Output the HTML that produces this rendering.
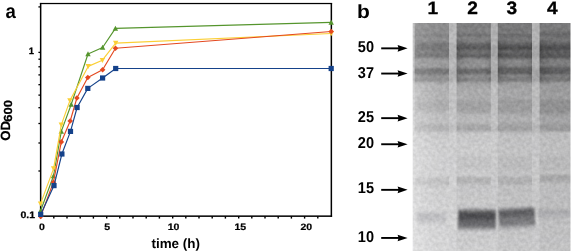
<!DOCTYPE html>
<html><head><meta charset="utf-8"><title>figure</title>
<style>
html,body{margin:0;padding:0;background:#fff;}
body{width:572px;height:252px;overflow:hidden;}
svg{display:block;}
svg text{font-family:"Liberation Sans", sans-serif;font-weight:bold;fill:#000;text-rendering:geometricPrecision;}
</style></head><body>
<svg width="572" height="252" viewBox="0 0 572 252">
<defs>
<linearGradient id="cGL" gradientUnits="userSpaceOnUse" x1="0" y1="22.9" x2="0" y2="251.0"><stop offset="0.0000" stop-color="rgb(188,188,189)"/><stop offset="0.2591" stop-color="rgb(190,190,191)"/><stop offset="0.4783" stop-color="rgb(205,205,206)"/><stop offset="1.0000" stop-color="rgb(214,214,215)"/></linearGradient>
<linearGradient id="cL1" gradientUnits="userSpaceOnUse" x1="0" y1="22.9" x2="0" y2="251.0"><stop offset="0.0000" stop-color="rgb(140,140,141)"/><stop offset="0.0465" stop-color="rgb(140,140,141)"/><stop offset="0.0530" stop-color="rgb(128,128,129)"/><stop offset="0.0596" stop-color="rgb(128,128,129)"/><stop offset="0.0662" stop-color="rgb(143,143,144)"/><stop offset="0.0794" stop-color="rgb(143,143,144)"/><stop offset="0.0881" stop-color="rgb(122,122,123)"/><stop offset="0.0969" stop-color="rgb(117,117,118)"/><stop offset="0.1188" stop-color="rgb(116,116,117)"/><stop offset="0.1232" stop-color="rgb(128,128,129)"/><stop offset="0.1298" stop-color="rgb(128,128,129)"/><stop offset="0.1363" stop-color="rgb(117,117,118)"/><stop offset="0.1495" stop-color="rgb(117,117,118)"/><stop offset="0.1583" stop-color="rgb(153,153,154)"/><stop offset="0.1955" stop-color="rgb(155,155,156)"/><stop offset="0.2021" stop-color="rgb(118,118,119)"/><stop offset="0.2253" stop-color="rgb(118,118,119)"/><stop offset="0.2306" stop-color="rgb(152,152,153)"/><stop offset="0.2372" stop-color="rgb(152,152,153)"/><stop offset="0.2416" stop-color="rgb(142,142,143)"/><stop offset="0.2547" stop-color="rgb(142,142,143)"/><stop offset="0.2613" stop-color="rgb(165,165,166)"/><stop offset="0.2679" stop-color="rgb(175,175,176)"/><stop offset="0.3292" stop-color="rgb(178,178,179)"/><stop offset="0.3512" stop-color="rgb(171,171,172)"/><stop offset="0.3819" stop-color="rgb(173,173,174)"/><stop offset="0.3994" stop-color="rgb(188,188,189)"/><stop offset="0.4301" stop-color="rgb(192,192,193)"/><stop offset="0.4410" stop-color="rgb(184,184,185)"/><stop offset="0.4564" stop-color="rgb(177,177,178)"/><stop offset="0.4739" stop-color="rgb(177,177,178)"/><stop offset="0.4805" stop-color="rgb(200,200,201)"/><stop offset="0.5572" stop-color="rgb(206,206,207)"/><stop offset="0.6712" stop-color="rgb(207,207,208)"/><stop offset="0.6843" stop-color="rgb(191,191,192)"/><stop offset="0.7063" stop-color="rgb(191,191,192)"/><stop offset="0.7150" stop-color="rgb(204,204,205)"/><stop offset="0.7983" stop-color="rgb(208,208,209)"/><stop offset="1.0000" stop-color="rgb(213,213,214)"/></linearGradient>
<linearGradient id="cG12" gradientUnits="userSpaceOnUse" x1="0" y1="22.9" x2="0" y2="251.0"><stop offset="0.0000" stop-color="rgb(184,184,185)"/><stop offset="0.0881" stop-color="rgb(184,184,185)"/><stop offset="0.1013" stop-color="rgb(176,176,177)"/><stop offset="0.1539" stop-color="rgb(176,176,177)"/><stop offset="0.1626" stop-color="rgb(184,184,185)"/><stop offset="0.1933" stop-color="rgb(184,184,185)"/><stop offset="0.2021" stop-color="rgb(176,176,177)"/><stop offset="0.2547" stop-color="rgb(178,178,179)"/><stop offset="0.2635" stop-color="rgb(192,192,193)"/><stop offset="0.4476" stop-color="rgb(198,198,199)"/><stop offset="0.4564" stop-color="rgb(192,192,193)"/><stop offset="0.4739" stop-color="rgb(192,192,193)"/><stop offset="0.4827" stop-color="rgb(205,205,206)"/><stop offset="1.0000" stop-color="rgb(211,211,212)"/></linearGradient>
<linearGradient id="cL2" gradientUnits="userSpaceOnUse" x1="0" y1="22.9" x2="0" y2="251.0"><stop offset="0.0000" stop-color="rgb(127,127,128)"/><stop offset="0.0443" stop-color="rgb(127,127,128)"/><stop offset="0.0509" stop-color="rgb(110,110,111)"/><stop offset="0.0574" stop-color="rgb(110,110,111)"/><stop offset="0.0640" stop-color="rgb(128,128,129)"/><stop offset="0.0837" stop-color="rgb(128,128,129)"/><stop offset="0.0903" stop-color="rgb(104,104,105)"/><stop offset="0.0991" stop-color="rgb(100,100,101)"/><stop offset="0.1035" stop-color="rgb(90,90,91)"/><stop offset="0.1166" stop-color="rgb(90,90,91)"/><stop offset="0.1210" stop-color="rgb(116,116,117)"/><stop offset="0.1320" stop-color="rgb(116,116,117)"/><stop offset="0.1363" stop-color="rgb(100,100,101)"/><stop offset="0.1517" stop-color="rgb(97,97,98)"/><stop offset="0.1583" stop-color="rgb(143,143,144)"/><stop offset="0.1955" stop-color="rgb(145,145,146)"/><stop offset="0.2021" stop-color="rgb(108,108,109)"/><stop offset="0.2240" stop-color="rgb(108,108,109)"/><stop offset="0.2293" stop-color="rgb(148,148,149)"/><stop offset="0.2372" stop-color="rgb(148,148,149)"/><stop offset="0.2416" stop-color="rgb(130,130,131)"/><stop offset="0.2547" stop-color="rgb(130,130,131)"/><stop offset="0.2613" stop-color="rgb(160,160,161)"/><stop offset="0.2854" stop-color="rgb(166,166,167)"/><stop offset="0.2942" stop-color="rgb(171,171,172)"/><stop offset="0.3336" stop-color="rgb(171,171,172)"/><stop offset="0.3468" stop-color="rgb(161,161,162)"/><stop offset="0.3862" stop-color="rgb(162,162,163)"/><stop offset="0.3994" stop-color="rgb(176,176,177)"/><stop offset="0.4169" stop-color="rgb(184,184,185)"/><stop offset="0.4301" stop-color="rgb(187,187,188)"/><stop offset="0.4410" stop-color="rgb(174,174,175)"/><stop offset="0.4564" stop-color="rgb(166,166,167)"/><stop offset="0.4739" stop-color="rgb(166,166,167)"/><stop offset="0.4805" stop-color="rgb(198,198,199)"/><stop offset="0.5572" stop-color="rgb(203,203,204)"/><stop offset="0.5747" stop-color="rgb(202,202,203)"/><stop offset="0.5923" stop-color="rgb(195,195,196)"/><stop offset="0.6317" stop-color="rgb(195,195,196)"/><stop offset="0.6537" stop-color="rgb(203,203,204)"/><stop offset="0.6712" stop-color="rgb(203,203,204)"/><stop offset="0.6778" stop-color="rgb(178,178,179)"/><stop offset="0.7019" stop-color="rgb(178,178,179)"/><stop offset="0.7107" stop-color="rgb(197,197,198)"/><stop offset="0.7983" stop-color="rgb(199,199,200)"/><stop offset="0.9167" stop-color="rgb(200,200,201)"/><stop offset="1.0000" stop-color="rgb(205,205,206)"/></linearGradient>
<linearGradient id="cG23" gradientUnits="userSpaceOnUse" x1="0" y1="22.9" x2="0" y2="251.0"><stop offset="0.0000" stop-color="rgb(176,176,177)"/><stop offset="0.0881" stop-color="rgb(176,176,177)"/><stop offset="0.1013" stop-color="rgb(166,166,167)"/><stop offset="0.1539" stop-color="rgb(166,166,167)"/><stop offset="0.1626" stop-color="rgb(176,176,177)"/><stop offset="0.1933" stop-color="rgb(176,176,177)"/><stop offset="0.2021" stop-color="rgb(166,166,167)"/><stop offset="0.2547" stop-color="rgb(170,170,171)"/><stop offset="0.2635" stop-color="rgb(188,188,189)"/><stop offset="0.4476" stop-color="rgb(194,194,195)"/><stop offset="0.4564" stop-color="rgb(188,188,189)"/><stop offset="0.4739" stop-color="rgb(188,188,189)"/><stop offset="0.4827" stop-color="rgb(202,202,203)"/><stop offset="0.7983" stop-color="rgb(200,200,201)"/><stop offset="1.0000" stop-color="rgb(206,206,207)"/></linearGradient>
<linearGradient id="cL3" gradientUnits="userSpaceOnUse" x1="0" y1="22.9" x2="0" y2="251.0"><stop offset="0.0000" stop-color="rgb(120,120,121)"/><stop offset="0.0443" stop-color="rgb(120,120,121)"/><stop offset="0.0509" stop-color="rgb(105,105,106)"/><stop offset="0.0574" stop-color="rgb(105,105,106)"/><stop offset="0.0640" stop-color="rgb(118,118,119)"/><stop offset="0.0837" stop-color="rgb(116,116,117)"/><stop offset="0.0903" stop-color="rgb(100,100,101)"/><stop offset="0.0991" stop-color="rgb(95,95,96)"/><stop offset="0.1035" stop-color="rgb(77,77,78)"/><stop offset="0.1166" stop-color="rgb(77,77,78)"/><stop offset="0.1210" stop-color="rgb(102,102,103)"/><stop offset="0.1320" stop-color="rgb(102,102,103)"/><stop offset="0.1363" stop-color="rgb(88,88,89)"/><stop offset="0.1552" stop-color="rgb(92,92,93)"/><stop offset="0.1605" stop-color="rgb(133,133,134)"/><stop offset="0.1911" stop-color="rgb(133,133,134)"/><stop offset="0.1955" stop-color="rgb(99,99,100)"/><stop offset="0.2253" stop-color="rgb(99,99,100)"/><stop offset="0.2284" stop-color="rgb(142,142,143)"/><stop offset="0.2328" stop-color="rgb(142,142,143)"/><stop offset="0.2372" stop-color="rgb(124,124,125)"/><stop offset="0.2560" stop-color="rgb(124,124,125)"/><stop offset="0.2613" stop-color="rgb(155,155,156)"/><stop offset="0.2854" stop-color="rgb(163,163,164)"/><stop offset="0.3292" stop-color="rgb(166,166,167)"/><stop offset="0.3424" stop-color="rgb(155,155,156)"/><stop offset="0.3906" stop-color="rgb(156,156,157)"/><stop offset="0.4038" stop-color="rgb(172,172,173)"/><stop offset="0.4301" stop-color="rgb(176,176,177)"/><stop offset="0.4410" stop-color="rgb(168,168,169)"/><stop offset="0.4542" stop-color="rgb(160,160,161)"/><stop offset="0.4739" stop-color="rgb(160,160,161)"/><stop offset="0.4805" stop-color="rgb(190,190,191)"/><stop offset="0.5572" stop-color="rgb(194,194,195)"/><stop offset="0.5747" stop-color="rgb(194,194,195)"/><stop offset="0.5923" stop-color="rgb(187,187,188)"/><stop offset="0.6317" stop-color="rgb(187,187,188)"/><stop offset="0.6537" stop-color="rgb(193,193,194)"/><stop offset="0.6712" stop-color="rgb(193,193,194)"/><stop offset="0.6800" stop-color="rgb(175,175,176)"/><stop offset="0.7041" stop-color="rgb(175,175,176)"/><stop offset="0.7128" stop-color="rgb(191,191,192)"/><stop offset="0.7983" stop-color="rgb(192,192,193)"/><stop offset="1.0000" stop-color="rgb(199,199,200)"/></linearGradient>
<linearGradient id="cG34" gradientUnits="userSpaceOnUse" x1="0" y1="22.9" x2="0" y2="251.0"><stop offset="0.0000" stop-color="rgb(180,180,181)"/><stop offset="0.0881" stop-color="rgb(178,178,179)"/><stop offset="0.1013" stop-color="rgb(168,168,169)"/><stop offset="0.1539" stop-color="rgb(168,168,169)"/><stop offset="0.1626" stop-color="rgb(178,178,179)"/><stop offset="0.1933" stop-color="rgb(176,176,177)"/><stop offset="0.2021" stop-color="rgb(164,164,165)"/><stop offset="0.2547" stop-color="rgb(166,166,167)"/><stop offset="0.2635" stop-color="rgb(186,186,187)"/><stop offset="0.4476" stop-color="rgb(188,188,189)"/><stop offset="0.4564" stop-color="rgb(180,180,181)"/><stop offset="0.4739" stop-color="rgb(180,180,181)"/><stop offset="0.4827" stop-color="rgb(197,197,198)"/><stop offset="1.0000" stop-color="rgb(201,201,202)"/></linearGradient>
<linearGradient id="cL4" gradientUnits="userSpaceOnUse" x1="0" y1="22.9" x2="0" y2="251.0"><stop offset="0.0000" stop-color="rgb(123,123,124)"/><stop offset="0.0311" stop-color="rgb(120,120,121)"/><stop offset="0.0509" stop-color="rgb(104,104,105)"/><stop offset="0.0574" stop-color="rgb(104,104,105)"/><stop offset="0.0640" stop-color="rgb(116,116,117)"/><stop offset="0.0837" stop-color="rgb(112,112,113)"/><stop offset="0.0903" stop-color="rgb(97,97,98)"/><stop offset="0.0991" stop-color="rgb(92,92,93)"/><stop offset="0.1035" stop-color="rgb(80,80,81)"/><stop offset="0.1188" stop-color="rgb(80,80,81)"/><stop offset="0.1232" stop-color="rgb(97,97,98)"/><stop offset="0.1320" stop-color="rgb(97,97,98)"/><stop offset="0.1363" stop-color="rgb(87,87,88)"/><stop offset="0.1552" stop-color="rgb(90,90,91)"/><stop offset="0.1605" stop-color="rgb(126,126,127)"/><stop offset="0.1911" stop-color="rgb(126,126,127)"/><stop offset="0.1955" stop-color="rgb(93,93,94)"/><stop offset="0.2253" stop-color="rgb(93,93,94)"/><stop offset="0.2284" stop-color="rgb(138,138,139)"/><stop offset="0.2328" stop-color="rgb(138,138,139)"/><stop offset="0.2372" stop-color="rgb(116,116,117)"/><stop offset="0.2560" stop-color="rgb(116,116,117)"/><stop offset="0.2613" stop-color="rgb(152,152,153)"/><stop offset="0.3292" stop-color="rgb(157,157,158)"/><stop offset="0.3424" stop-color="rgb(144,144,145)"/><stop offset="0.3906" stop-color="rgb(145,145,146)"/><stop offset="0.4082" stop-color="rgb(162,162,163)"/><stop offset="0.4301" stop-color="rgb(167,167,168)"/><stop offset="0.4410" stop-color="rgb(160,160,161)"/><stop offset="0.4542" stop-color="rgb(154,154,155)"/><stop offset="0.4739" stop-color="rgb(154,154,155)"/><stop offset="0.4805" stop-color="rgb(187,187,188)"/><stop offset="0.5572" stop-color="rgb(190,190,191)"/><stop offset="0.5747" stop-color="rgb(190,190,191)"/><stop offset="0.5923" stop-color="rgb(184,184,185)"/><stop offset="0.6274" stop-color="rgb(184,184,185)"/><stop offset="0.6449" stop-color="rgb(189,189,190)"/><stop offset="0.6624" stop-color="rgb(189,189,190)"/><stop offset="0.6690" stop-color="rgb(167,167,168)"/><stop offset="0.6931" stop-color="rgb(167,167,168)"/><stop offset="0.7019" stop-color="rgb(187,187,188)"/><stop offset="0.7983" stop-color="rgb(188,188,189)"/><stop offset="1.0000" stop-color="rgb(194,194,195)"/></linearGradient>
<linearGradient id="b2" gradientUnits="userSpaceOnUse" x1="0" y1="207.0" x2="0" y2="232.5"><stop offset="0.0000" stop-color="rgb(130,130,133)" stop-opacity="0"/><stop offset="0.0784" stop-color="rgb(130,130,133)" stop-opacity="0.45"/><stop offset="0.1569" stop-color="rgb(100,100,103)" stop-opacity="0.9"/><stop offset="0.2353" stop-color="rgb(84,84,87)" stop-opacity="1"/><stop offset="0.3137" stop-color="rgb(77,77,80)" stop-opacity="1"/><stop offset="0.4510" stop-color="rgb(80,80,83)" stop-opacity="1"/><stop offset="0.5490" stop-color="rgb(100,100,103)" stop-opacity="1"/><stop offset="0.7451" stop-color="rgb(110,110,113)" stop-opacity="1"/><stop offset="0.8235" stop-color="rgb(128,128,131)" stop-opacity="0.85"/><stop offset="0.9020" stop-color="rgb(155,155,158)" stop-opacity="0.5"/><stop offset="1.0000" stop-color="rgb(185,185,188)" stop-opacity="0"/></linearGradient>
<linearGradient id="b3" gradientUnits="userSpaceOnUse" x1="0" y1="205.8" x2="0" y2="231.3"><stop offset="0.0000" stop-color="rgb(135,135,138)" stop-opacity="0"/><stop offset="0.0784" stop-color="rgb(135,135,138)" stop-opacity="0.45"/><stop offset="0.1569" stop-color="rgb(105,105,108)" stop-opacity="0.9"/><stop offset="0.2353" stop-color="rgb(95,95,98)" stop-opacity="1"/><stop offset="0.3725" stop-color="rgb(97,97,100)" stop-opacity="1"/><stop offset="0.4706" stop-color="rgb(116,116,119)" stop-opacity="1"/><stop offset="0.7255" stop-color="rgb(124,124,127)" stop-opacity="0.95"/><stop offset="0.8039" stop-color="rgb(140,140,143)" stop-opacity="0.75"/><stop offset="0.9020" stop-color="rgb(165,165,168)" stop-opacity="0.4"/><stop offset="1.0000" stop-color="rgb(185,185,188)" stop-opacity="0"/></linearGradient>
<linearGradient id="b1" gradientUnits="userSpaceOnUse" x1="0" y1="210" x2="0" y2="226"><stop offset="0.0000" stop-color="rgb(186,186,189)" stop-opacity="0"/><stop offset="0.2500" stop-color="rgb(186,186,189)" stop-opacity="0.8"/><stop offset="0.6250" stop-color="rgb(188,188,191)" stop-opacity="0.8"/><stop offset="1.0000" stop-color="rgb(195,195,198)" stop-opacity="0"/></linearGradient>
<linearGradient id="b4" gradientUnits="userSpaceOnUse" x1="0" y1="207.5" x2="0" y2="220.5"><stop offset="0.0000" stop-color="rgb(170,170,173)" stop-opacity="0"/><stop offset="0.2308" stop-color="rgb(170,170,173)" stop-opacity="0.9"/><stop offset="0.6923" stop-color="rgb(173,173,176)" stop-opacity="0.85"/><stop offset="1.0000" stop-color="rgb(185,185,188)" stop-opacity="0"/></linearGradient>
<linearGradient id="edgeL" x1="0" y1="0" x2="1" y2="0"><stop offset="0" stop-color="#000" stop-opacity="0.17"/><stop offset="0.14" stop-color="#000" stop-opacity="0.07"/><stop offset="0.4" stop-color="#000" stop-opacity="0"/><stop offset="0.8" stop-color="#000" stop-opacity="0"/><stop offset="1" stop-color="#000" stop-opacity="0.12"/></linearGradient>
<linearGradient id="liteL" x1="0" y1="0" x2="1" y2="0"><stop offset="0" stop-color="#fff" stop-opacity="1"/><stop offset="0.35" stop-color="#fff" stop-opacity="0.55"/><stop offset="1" stop-color="#fff" stop-opacity="0"/></linearGradient>
<linearGradient id="fadeR" x1="0" y1="0" x2="1" y2="0"><stop offset="0" stop-color="#fff" stop-opacity="0"/><stop offset="0.3" stop-color="#fff" stop-opacity="0"/><stop offset="1" stop-color="#c3c3c5" stop-opacity="0.9"/></linearGradient>
<filter id="gblur" x="-5%" y="-5%" width="110%" height="110%"><feGaussianBlur stdDeviation="0.6 0.9"/></filter>
<filter id="bblur" x="-10%" y="-20%" width="120%" height="140%"><feGaussianBlur stdDeviation="1.1 1.2"/></filter>
<clipPath id="gclip"><rect x="412.7" y="22.9" width="157.8" height="228.1"/></clipPath>
<filter id="noise" x="0" y="0" width="100%" height="100%" color-interpolation-filters="sRGB"><feTurbulence type="fractalNoise" baseFrequency="0.28" numOctaves="2" seed="7" result="t"/><feColorMatrix in="t" type="matrix" values="1 0 0 0 0  1 0 0 0 0  1 0 0 0 0  0 0 0 0 1" result="n"/><feComposite in="SourceGraphic" in2="n" operator="arithmetic" k1="0" k2="1" k3="0.14" k4="-0.07"/></filter>
</defs>
<rect x="0" y="0" width="572" height="252" fill="#fff"/>
<g id="chart">
<rect x="39.9" y="2.95" width="1.5" height="213.9" fill="#000"/>
<rect x="39.9" y="2.9" width="292.20000000000005" height="1.25" fill="#000"/>
<rect x="330.6" y="3.0" width="1.5" height="213.79999999999998" fill="#000"/>
<rect x="39.9" y="215.4" width="292.20000000000005" height="1.5" fill="#000"/>
<line x1="38.4" y1="6.9" x2="40.2" y2="6.9" stroke="#000" stroke-width="1.3"/>
<line x1="38.4" y1="52.4" x2="40.2" y2="52.4" stroke="#000" stroke-width="1.3"/>
<line x1="38.4" y1="59.2" x2="40.2" y2="59.2" stroke="#000" stroke-width="1.3"/>
<line x1="38.4" y1="66.8" x2="40.2" y2="66.8" stroke="#000" stroke-width="1.3"/>
<line x1="38.4" y1="74.9" x2="40.2" y2="74.9" stroke="#000" stroke-width="1.3"/>
<line x1="38.4" y1="84.7" x2="40.2" y2="84.7" stroke="#000" stroke-width="1.3"/>
<line x1="38.4" y1="95.1" x2="40.2" y2="95.1" stroke="#000" stroke-width="1.3"/>
<line x1="38.4" y1="107.7" x2="40.2" y2="107.7" stroke="#000" stroke-width="1.3"/>
<line x1="38.4" y1="123.5" x2="40.2" y2="123.5" stroke="#000" stroke-width="1.3"/>
<line x1="38.4" y1="143" x2="40.2" y2="143" stroke="#000" stroke-width="1.3"/>
<line x1="38.4" y1="171" x2="40.2" y2="171" stroke="#000" stroke-width="1.3"/>
<line x1="40.6" y1="216.2" x2="40.6" y2="218.6" stroke="#000" stroke-width="1.4"/>
<line x1="53.8" y1="216.2" x2="53.8" y2="218.6" stroke="#000" stroke-width="1.4"/>
<line x1="67.0" y1="216.2" x2="67.0" y2="218.6" stroke="#000" stroke-width="1.4"/>
<line x1="80.2" y1="216.2" x2="80.2" y2="218.6" stroke="#000" stroke-width="1.4"/>
<line x1="93.4" y1="216.2" x2="93.4" y2="218.6" stroke="#000" stroke-width="1.4"/>
<line x1="106.7" y1="216.2" x2="106.7" y2="218.6" stroke="#000" stroke-width="1.4"/>
<line x1="119.8" y1="216.2" x2="119.8" y2="218.6" stroke="#000" stroke-width="1.4"/>
<line x1="133.0" y1="216.2" x2="133.0" y2="218.6" stroke="#000" stroke-width="1.4"/>
<line x1="146.2" y1="216.2" x2="146.2" y2="218.6" stroke="#000" stroke-width="1.4"/>
<line x1="159.4" y1="216.2" x2="159.4" y2="218.6" stroke="#000" stroke-width="1.4"/>
<line x1="172.7" y1="216.2" x2="172.7" y2="218.6" stroke="#000" stroke-width="1.4"/>
<line x1="185.8" y1="216.2" x2="185.8" y2="218.6" stroke="#000" stroke-width="1.4"/>
<line x1="199.0" y1="216.2" x2="199.0" y2="218.6" stroke="#000" stroke-width="1.4"/>
<line x1="212.2" y1="216.2" x2="212.2" y2="218.6" stroke="#000" stroke-width="1.4"/>
<line x1="225.4" y1="216.2" x2="225.4" y2="218.6" stroke="#000" stroke-width="1.4"/>
<line x1="238.7" y1="216.2" x2="238.7" y2="218.6" stroke="#000" stroke-width="1.4"/>
<line x1="251.8" y1="216.2" x2="251.8" y2="218.6" stroke="#000" stroke-width="1.4"/>
<line x1="265.0" y1="216.2" x2="265.0" y2="218.6" stroke="#000" stroke-width="1.4"/>
<line x1="278.2" y1="216.2" x2="278.2" y2="218.6" stroke="#000" stroke-width="1.4"/>
<line x1="291.4" y1="216.2" x2="291.4" y2="218.6" stroke="#000" stroke-width="1.4"/>
<line x1="304.6" y1="216.2" x2="304.6" y2="218.6" stroke="#000" stroke-width="1.4"/>
<line x1="317.8" y1="216.2" x2="317.8" y2="218.6" stroke="#000" stroke-width="1.4"/>
<polyline points="40.5,211.0 53.5,176.0 61.3,131.4 71.2,104.5 88.0,54.0 102.6,47.5 115.4,28.4 331.2,22.4" fill="none" stroke="#55952d" stroke-width="1.15" stroke-linejoin="round"/>
<path d="M40.5,208.3 L43.2,213.3 L37.8,213.3Z" fill="#55952d"/><path d="M53.5,173.3 L56.2,178.3 L50.8,178.3Z" fill="#55952d"/><path d="M61.3,128.7 L64.0,133.7 L58.6,133.7Z" fill="#55952d"/><path d="M71.2,101.8 L73.9,106.8 L68.5,106.8Z" fill="#55952d"/><path d="M88.0,51.3 L90.7,56.3 L85.3,56.3Z" fill="#55952d"/><path d="M102.6,44.8 L105.3,49.8 L99.9,49.8Z" fill="#55952d"/><path d="M115.4,25.7 L118.1,30.7 L112.7,30.7Z" fill="#55952d"/><path d="M331.2,19.7 L333.9,24.7 L328.5,24.7Z" fill="#55952d"/>
<polyline points="40.5,203.9 53.6,168.6 61.3,124.9 69.9,100.6 88.2,66.4 102.4,60.2 115.7,43.1 331.2,33.5" fill="none" stroke="#fbcf35" stroke-width="1.15" stroke-linejoin="round"/>
<path d="M40.5,206.6 L43.2,201.6 L37.8,201.6Z" fill="#fbcf35"/><path d="M53.6,171.3 L56.3,166.3 L50.9,166.3Z" fill="#fbcf35"/><path d="M61.3,127.6 L64.0,122.6 L58.6,122.6Z" fill="#fbcf35"/><path d="M69.9,103.3 L72.6,98.3 L67.2,98.3Z" fill="#fbcf35"/><path d="M88.2,69.1 L90.9,64.1 L85.5,64.1Z" fill="#fbcf35"/><path d="M102.4,62.9 L105.1,57.9 L99.7,57.9Z" fill="#fbcf35"/><path d="M115.7,45.8 L118.4,40.8 L113.0,40.8Z" fill="#fbcf35"/><path d="M331.2,36.2 L333.9,31.2 L328.5,31.2Z" fill="#fbcf35"/>
<polyline points="40.7,216.4 53.4,182.3 61.3,141.9 70.2,121.0 76.9,98.0 87.8,77.5 102.6,69.7 115.5,48.2 331.2,31.5" fill="none" stroke="#e4481f" stroke-width="1.15" stroke-linejoin="round"/>
<path d="M40.7,213.6 L43.5,216.4 L40.7,219.2 L37.9,216.4Z" fill="#e4481f"/><path d="M53.4,179.5 L56.2,182.3 L53.4,185.1 L50.6,182.3Z" fill="#e4481f"/><path d="M61.3,139.1 L64.1,141.9 L61.3,144.7 L58.5,141.9Z" fill="#e4481f"/><path d="M70.2,118.2 L73.0,121.0 L70.2,123.8 L67.4,121.0Z" fill="#e4481f"/><path d="M76.9,95.2 L79.7,98.0 L76.9,100.8 L74.1,98.0Z" fill="#e4481f"/><path d="M87.8,74.7 L90.6,77.5 L87.8,80.3 L85.0,77.5Z" fill="#e4481f"/><path d="M102.6,66.9 L105.4,69.7 L102.6,72.5 L99.8,69.7Z" fill="#e4481f"/><path d="M115.5,45.4 L118.3,48.2 L115.5,51.0 L112.7,48.2Z" fill="#e4481f"/><path d="M331.2,28.7 L334.0,31.5 L331.2,34.3 L328.4,31.5Z" fill="#e4481f"/>
<polyline points="40.7,214.4 54.0,185.6 61.9,154.0 70.5,131.4 77.1,107.5 87.8,88.4 102.6,78.0 115.7,68.5 331.2,68.5" fill="none" stroke="#15428a" stroke-width="1.15" stroke-linejoin="round"/>
<rect x="38.1" y="211.8" width="5.2" height="5.2" fill="#15428a"/><rect x="51.4" y="183.0" width="5.2" height="5.2" fill="#15428a"/><rect x="59.3" y="151.4" width="5.2" height="5.2" fill="#15428a"/><rect x="67.9" y="128.8" width="5.2" height="5.2" fill="#15428a"/><rect x="74.5" y="104.9" width="5.2" height="5.2" fill="#15428a"/><rect x="85.2" y="85.8" width="5.2" height="5.2" fill="#15428a"/><rect x="100.0" y="75.4" width="5.2" height="5.2" fill="#15428a"/><rect x="113.1" y="65.9" width="5.2" height="5.2" fill="#15428a"/><rect x="328.6" y="65.9" width="5.2" height="5.2" fill="#15428a"/>
</g>
<g id="labels" opacity="0.999">
<text transform="translate(5.4,17.85) scale(0.93,1)" x="0" y="0" font-size="20" text-anchor="start" >a</text>
<text transform="translate(356.9,17.9) scale(1.1,1)" x="0" y="0" font-size="19.1" text-anchor="start" >b</text>
<text transform="translate(41.9,230.2) scale(1.13,1)" x="0" y="0" font-size="9.3" text-anchor="middle" stroke="#000" stroke-width="0.2" stroke-linejoin="round" >0</text>
<text transform="translate(107.05,230.2) scale(1.13,1)" x="0" y="0" font-size="9.3" text-anchor="middle" stroke="#000" stroke-width="0.2" stroke-linejoin="round" >5</text>
<text transform="translate(173.5,230.2) scale(1.13,1)" x="0" y="0" font-size="9.3" text-anchor="middle" stroke="#000" stroke-width="0.2" stroke-linejoin="round" >10</text>
<text transform="translate(240.35,230.2) scale(1.13,1)" x="0" y="0" font-size="9.3" text-anchor="middle" stroke="#000" stroke-width="0.2" stroke-linejoin="round" >15</text>
<text transform="translate(306.35,230.2) scale(1.13,1)" x="0" y="0" font-size="9.3" text-anchor="middle" stroke="#000" stroke-width="0.2" stroke-linejoin="round" >20</text>
<text transform="translate(35.1,217.9) scale(1.13,1)" x="0" y="0" font-size="9.3" text-anchor="end" stroke="#000" stroke-width="0.25" stroke-linejoin="round" >0.1</text>
<text transform="translate(34.0,53.8) scale(1.02,1)" x="0" y="0" font-size="9.3" text-anchor="end" stroke="#000" stroke-width="0.25" stroke-linejoin="round" >1</text>
<text transform="translate(175.7,247.5) scale(1.0,1)" x="0" y="0" font-size="13.45" text-anchor="middle" >time (h)</text>
<g transform="translate(10.0,140.8) rotate(-90)" stroke="#000" stroke-width="0.25"><text transform="scale(0.99,1)" x="0" y="0" font-size="13.3" text-anchor="start">OD</text><text transform="translate(19.0,2.4) scale(1.11,1)" x="0" y="0" font-size="11.7" text-anchor="start">600</text></g>
</g>
<g id="gel">
<g clip-path="url(#gclip)">
<g filter="url(#noise)">
<rect x="405" y="18" width="172" height="238" fill="#c0c0c0"/>
<g filter="url(#gblur)">
<rect x="409.0" y="19.9" width="5.9" height="234.1" fill="url(#cGL)"/>
<rect x="414.6" y="19.9" width="34.7" height="234.1" fill="url(#cL1)"/>
<rect x="449.0" y="19.9" width="7.9" height="234.1" fill="url(#cG12)"/>
<rect x="456.6" y="19.9" width="34.5" height="234.1" fill="url(#cL2)"/>
<rect x="490.8" y="19.9" width="7.3" height="234.1" fill="url(#cG23)"/>
<rect x="497.8" y="19.9" width="34.5" height="234.1" fill="url(#cL3)"/>
<rect x="532.0" y="19.9" width="7.9" height="234.1" fill="url(#cG34)"/>
<rect x="539.6" y="19.9" width="35.7" height="234.1" fill="url(#cL4)"/>
<rect x="456.6" y="40" width="34.2" height="43" fill="url(#edgeL)"/>
<rect x="497.8" y="40" width="34.2" height="43" fill="url(#edgeL)"/>
<rect x="539.6" y="40" width="35.4" height="43" fill="url(#edgeL)"/>
<rect x="412" y="20" width="26" height="62" fill="url(#liteL)" opacity="0.14"/>
<rect x="412" y="82" width="28" height="172" fill="url(#liteL)" opacity="0.3"/>
</g>
<g filter="url(#bblur)">
<rect x="458.2" y="207.0" width="37.5" height="25.5" fill="url(#b2)"/>
<g transform="rotate(-3.4 516 216)"><rect x="498.8" y="205.8" width="36.0" height="25.5" fill="url(#b3)"/></g>
<rect x="417" y="211" width="29" height="15" fill="url(#b1)"/>
<rect x="538.0" y="208.0" width="36" height="13" fill="url(#b4)"/>
</g>
</g>
</g>
</g>
<g id="gellabels" opacity="0.999">
<text transform="translate(357.8,52.1) scale(0.92,1)" x="0" y="0" font-size="15.8" text-anchor="start" >50</text>
<line x1="381.2" y1="48.35" x2="400" y2="48.35" stroke="#000" stroke-width="1.9"/>
<path d="M397.6,45.050000000000004 L407.6,48.35 L397.6,51.65 L398.6,48.35Z" fill="#000"/>
<text transform="translate(357.8,77.8) scale(0.92,1)" x="0" y="0" font-size="15.8" text-anchor="start" >37</text>
<line x1="381.2" y1="73.55" x2="400" y2="73.55" stroke="#000" stroke-width="1.9"/>
<path d="M397.6,70.25 L407.6,73.55 L397.6,76.85 L398.6,73.55Z" fill="#000"/>
<text transform="translate(357.8,122.1) scale(0.92,1)" x="0" y="0" font-size="15.8" text-anchor="start" >25</text>
<line x1="381.2" y1="118.15" x2="400" y2="118.15" stroke="#000" stroke-width="1.9"/>
<path d="M397.6,114.85000000000001 L407.6,118.15 L397.6,121.45 L398.6,118.15Z" fill="#000"/>
<text transform="translate(357.8,148.3) scale(0.92,1)" x="0" y="0" font-size="15.8" text-anchor="start" >20</text>
<line x1="381.2" y1="144.25" x2="400" y2="144.25" stroke="#000" stroke-width="1.9"/>
<path d="M397.6,140.95 L407.6,144.25 L397.6,147.55 L398.6,144.25Z" fill="#000"/>
<text transform="translate(357.8,192.8) scale(0.92,1)" x="0" y="0" font-size="15.8" text-anchor="start" >15</text>
<line x1="381.2" y1="189.85" x2="400" y2="189.85" stroke="#000" stroke-width="1.9"/>
<path d="M397.6,186.54999999999998 L407.6,189.85 L397.6,193.15 L398.6,189.85Z" fill="#000"/>
<text transform="translate(357.8,241.8) scale(0.92,1)" x="0" y="0" font-size="15.8" text-anchor="start" >10</text>
<line x1="381.2" y1="237.95" x2="400" y2="237.95" stroke="#000" stroke-width="1.9"/>
<path d="M397.6,234.64999999999998 L407.6,237.95 L397.6,241.25 L398.6,237.95Z" fill="#000"/>
<text transform="translate(432.7,14.4) scale(1.07,1)" x="0" y="0" font-size="17.9" text-anchor="middle" stroke="#000" stroke-width="0.3" stroke-linejoin="round" >1</text>
<text transform="translate(472.6,14.4) scale(1.07,1)" x="0" y="0" font-size="17.9" text-anchor="middle" stroke="#000" stroke-width="0.3" stroke-linejoin="round" >2</text>
<text transform="translate(511.8,14.4) scale(1.07,1)" x="0" y="0" font-size="17.9" text-anchor="middle" stroke="#000" stroke-width="0.3" stroke-linejoin="round" >3</text>
<text transform="translate(552.4,14.4) scale(1.07,1)" x="0" y="0" font-size="17.9" text-anchor="middle" stroke="#000" stroke-width="0.3" stroke-linejoin="round" >4</text>
</g>
</svg>
</body></html>
